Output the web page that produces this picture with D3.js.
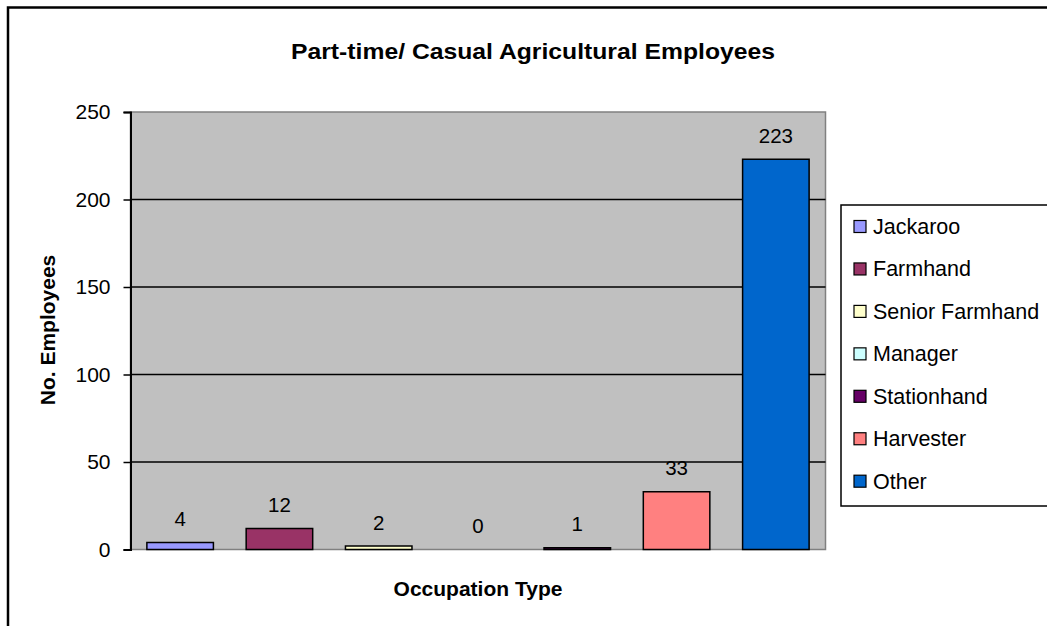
<!DOCTYPE html>
<html>
<head>
<meta charset="utf-8">
<script src="https://cdn.jsdelivr.net/npm/d3@7"></script>
<style>
  html, body { margin: 0; padding: 0; background: #fff; }
  svg { display: block; }
  text { font-family: Arial, "Liberation Sans", sans-serif; fill: #000; }
</style>
</head>
<body>
<svg id="chart" width="1047" height="626"></svg>
<script>
// Occupation categories and head counts
const categories = ["Jackaroo", "Farmhand", "Senior Farmhand", "Manager", "Stationhand", "Harvester", "Other"];
const employees = [4, 12, 2, 0, 1, 33, 223];
const colors = ["#9999FF", "#993366", "#FFFFCC", "#CCFFFF", "#660066", "#FF8080", "#0066CC"];
const yTicks = [0, 50, 100, 150, 200, 250];

const titleText = "Part-time/ Casual Agricultural Employees";
const yTitle = "No. Employees";
const xTitle = "Occupation Type";

const svg = d3.select("#chart");

// chart frame (left and top edges)
svg.append("path")
  .attr("d", "M8,626 L8,7.5 L1047,7.5")
  .attr("fill", "none")
  .attr("stroke", "#000")
  .attr("stroke-width", 2.5);

const plot = { left: 130.5, right: 825.5, top: 112, bottom: 549.5 };

const x = d3.scaleBand()
  .domain(categories)
  .range([plot.left, plot.right])
  .paddingInner(0.33)
  .paddingOuter(0.165);

const y = d3.scaleLinear()
  .domain([0, 250])
  .range([plot.bottom, plot.top]);

// plot background
svg.append("rect")
  .attr("x", plot.left)
  .attr("y", plot.top)
  .attr("width", plot.right - plot.left)
  .attr("height", plot.bottom - plot.top)
  .attr("fill", "#C0C0C0")
  .attr("stroke", "#808080")
  .attr("stroke-width", 1.5);

// horizontal gridlines
svg.append("g")
  .selectAll("line")
  .data(yTicks.filter(t => t > 0 && t < 250))
  .join("line")
  .attr("x1", plot.left)
  .attr("x2", plot.right)
  .attr("y1", d => y(d))
  .attr("y2", d => y(d))
  .attr("stroke", "#000")
  .attr("stroke-width", 1.5);

// y axis
const yAxis = svg.append("g")
  .attr("transform", `translate(${plot.left},0)`)
  .call(d3.axisLeft(y).tickValues(yTicks).tickSize(7).tickPadding(13));
yAxis.select(".domain").attr("stroke", "#000").attr("stroke-width", 2);
yAxis.selectAll(".tick line").attr("stroke", "#000").attr("stroke-width", 1.5);
yAxis.selectAll(".tick text")
  .attr("font-size", 21)
  .attr("font-family", "Arial, 'Liberation Sans', sans-serif")
  .attr("fill", "#000");

// bars
svg.append("g")
  .selectAll("rect")
  .data(categories)
  .join("rect")
  .attr("x", d => x(d))
  .attr("y", (d, i) => y(employees[i]))
  .attr("width", x.bandwidth())
  .attr("height", (d, i) => y(0) - y(employees[i]))
  .attr("fill", (d, i) => colors[i])
  .attr("stroke", "#000")
  .attr("stroke-width", (d, i) => employees[i] > 0 ? 1.5 : 0);

// value labels
svg.append("g")
  .selectAll("text")
  .data(categories)
  .join("text")
  .attr("x", d => x(d) + x.bandwidth() / 2)
  .attr("y", (d, i) => y(employees[i]) - 16.5)
  .attr("text-anchor", "middle")
  .attr("font-size", 20.5)
  .text((d, i) => employees[i]);

// title
svg.append("text")
  .attr("x", 533)
  .attr("y", 59)
  .attr("text-anchor", "middle")
  .attr("font-family", "'URW Gothic', 'DejaVu Sans', sans-serif")
  .attr("font-weight", "bold")
  .attr("font-size", 21.5)
  .attr("textLength", 484)
  .attr("lengthAdjust", "spacingAndGlyphs")
  .text(titleText);

// axis titles
svg.append("text")
  .attr("transform", "translate(55,330) rotate(-90)")
  .attr("text-anchor", "middle")
  .attr("font-weight", "bold")
  .attr("font-size", 21)
  .text(yTitle);

svg.append("text")
  .attr("x", 478)
  .attr("y", 596)
  .attr("text-anchor", "middle")
  .attr("font-weight", "bold")
  .attr("font-size", 21)
  .text(xTitle);

// legend
const legend = svg.append("g");
legend.append("rect")
  .attr("x", 841)
  .attr("y", 205)
  .attr("width", 220)
  .attr("height", 301)
  .attr("fill", "#fff")
  .attr("stroke", "#000")
  .attr("stroke-width", 1.5);

const item = legend.selectAll("g.item")
  .data(categories)
  .join("g")
  .attr("class", "item")
  .attr("transform", (d, i) => `translate(0,${226.5 + i * 42.45})`);

item.append("rect")
  .attr("x", 854)
  .attr("y", -6)
  .attr("width", 12)
  .attr("height", 12)
  .attr("fill", (d, i) => colors[i])
  .attr("stroke", "#000")
  .attr("stroke-width", 1.2);

item.append("text")
  .attr("x", 873)
  .attr("y", 7.5)
  .attr("font-size", 21.5)
  .text(d => d);
</script>
</body>
</html>
